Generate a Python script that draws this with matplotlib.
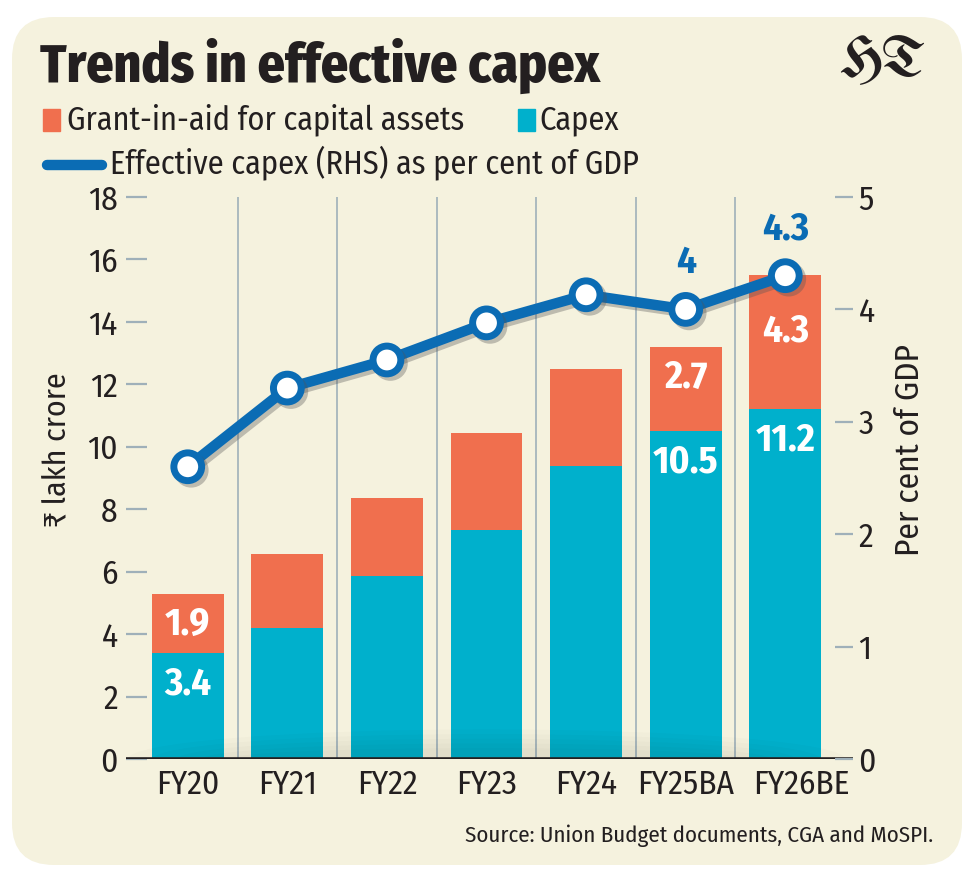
"""Trends in effective capex - stacked bars with GDP-share line on the right axis."""

import matplotlib
matplotlib.use("Agg")
import matplotlib.pyplot as plt
import matplotlib.patheffects as pe
import matplotlib.transforms as mtrans
from matplotlib import font_manager as fm
from matplotlib.patches import FancyBboxPatch, Rectangle, Ellipse
from matplotlib.lines import Line2D

years = ["FY20", "FY21", "FY22", "FY23", "FY24", "FY25BA", "FY26BE"]
capex = [3.4, 4.2, 5.85, 7.35, 9.4, 10.5, 11.2]
grant = [1.9, 2.35, 2.5, 3.1, 3.1, 2.7, 4.3]
eff_pct_gdp = [2.6, 3.3, 3.55, 3.88, 4.13, 4.0, 4.3]

capex_labels = {0: "3.4", 5: "10.5", 6: "11.2"}
grant_labels = {0: "1.9", 5: "2.7", 6: "4.3"}
line_labels = {5: "4", 6: "4.3"}

ORANGE = "#f06f4e"
TEAL = "#00b0cc"
BLUE = "#0b6cb4"
CREAM = "#f5f2de"
INK = "#231f20"
GRID = "#9fb0b9"

# pick a condensed face if one is installed, keep DejaVu for the rupee sign
installed = {f.name for f in fm.fontManager.ttflist}
cands = ["Fira Sans Condensed", "Roboto Condensed", "Barlow Semi Condensed",
         "PT Sans Narrow", "Archivo Narrow", "Liberation Sans Narrow"]
cond = next((c for c in cands if c in installed), "DejaVu Sans")
FONT = [cond, "DejaVu Sans"]
plt.rcParams["font.family"] = FONT
gothic = ["UnifrakturMaguntia", "UnifrakturCook", "Pirata One",
          "Grenze Gotisch", "Fruktur", "DejaVu Serif"]
LOGO = next((c for c in gothic if c in installed), "DejaVu Serif")

W, H = 970, 882
fig = plt.figure(figsize=(W / 100, H / 100), dpi=100)
fig.patch.set_facecolor("white")


def fx(x):
    return x / W


def fy(y):
    return 1 - y / H


# cream card with rounded corners (in inches so corners stay round)
card = FancyBboxPatch((0.12, 0.17), 9.50, 8.48,
                      boxstyle="round,pad=0,rounding_size=0.42",
                      transform=fig.dpi_scale_trans, facecolor=CREAM,
                      edgecolor="none", zorder=-10)
fig.patches.append(card)

ax = fig.add_axes([fx(126), fy(759), fx(853) - fx(126), (759 - 197) / H])
ax.set_facecolor("none")
x = range(len(years))

# category separators
for s in range(len(years) - 1):
    ax.axvline(s + 0.5, color=GRID, lw=1.2, zorder=1)

ax.bar(x, capex, width=0.72, color=TEAL, zorder=2)
ax.bar(x, grant, width=0.72, bottom=capex, color=ORANGE, zorder=2)

# soft floor shadow along the baseline
for k in range(5):
    ax.add_patch(Ellipse((3.0, 0), 7.2 - 0.5 * k, 1.9 - 0.3 * k,
                         facecolor="black", edgecolor="none", alpha=0.016,
                         zorder=2.5))
ax.axhline(0, color=INK, lw=2.6, zorder=3)

ax.set_xlim(-0.62, 6.68)
ax.set_ylim(0, 18)
ax.set_yticks(range(0, 19, 2))
ax.set_xticks(list(x))
ax.set_xticklabels(years)
for sp in ax.spines.values():
    sp.set_visible(False)
ax.tick_params(axis="y", direction="in", length=15, width=1.6, color=GRID,
               labelsize=24, labelcolor=INK, pad=6)
ax.tick_params(axis="x", length=0, labelsize=24, labelcolor=INK, pad=7)
# last category label sits a little right of its bar in the original
last = ax.get_xticklabels()[-1]
last.set_transform(last.get_transform() +
                   mtrans.ScaledTranslation(0.16, 0, fig.dpi_scale_trans))
ax.set_ylabel("₹ lakh crore", fontsize=23, color=INK)
ax.yaxis.set_label_coords(-0.074, 0.55)

for i, lab in capex_labels.items():
    ax.annotate(lab, (i, capex[i]), xytext=(0, -9), textcoords="offset points",
                ha="center", va="top", color="white", fontsize=28,
                fontweight="bold", zorder=4)
for i, lab in grant_labels.items():
    off = -27 if i == 6 else -9
    ax.annotate(lab, (i, capex[i] + grant[i]), xytext=(0, off),
                textcoords="offset points", ha="center", va="top",
                color="white", fontsize=28, fontweight="bold", zorder=4)

ax2 = ax.twinx()
ax2.set_ylim(0, 5)
ax2.set_yticks(range(0, 6))
for sp in ax2.spines.values():
    sp.set_visible(False)
ax2.tick_params(axis="y", direction="in", length=13, width=1.6, color=GRID,
                labelsize=24, labelcolor=INK, pad=4)
ax2.set_ylabel("Per cent of GDP", fontsize=24, color=INK)
ax2.yaxis.set_label_coords(1.056, 0.55)

ax2.plot(list(x), eff_pct_gdp, color=BLUE, lw=7.5, marker="o", ms=20,
         mfc="white", mec=BLUE, mew=5, zorder=5,
         path_effects=[pe.SimpleLineShadow(offset=(2.5, -2.5), alpha=0.35,
                                           shadow_color="#555555"),
                       pe.Normal()])
for i, lab in line_labels.items():
    ax2.annotate(lab, (i, eff_pct_gdp[i]), xytext=(0, 20),
                 textcoords="offset points", ha="center", va="bottom",
                 color=BLUE, fontsize=28, fontweight="bold", zorder=6)

# title, logo, legend, source
fig.text(fx(40), fy(82), "Trends in effective capex", fontsize=38.5,
         fontweight="heavy", color=INK, va="baseline")
fig.text(fx(926), fy(62), "HT", fontsize=42, family=[LOGO], color=INK,
         ha="right", va="center")

fig.patches.append(Rectangle((fx(43), fy(131)), fx(17), 22 / H,
                             transform=fig.transFigure, color=ORANGE))
fig.text(fx(67), fy(120), "Grant-in-aid for capital assets", fontsize=23.3,
         color=INK, va="center")
fig.patches.append(Rectangle((fx(518), fy(131)), fx(17), 22 / H,
                             transform=fig.transFigure, color=TEAL))
fig.text(fx(539), fy(120), "Capex", fontsize=23.3, color=INK, va="center")
fig.lines.append(Line2D([fx(47), fx(102)], [fy(165), fy(165)],
                        transform=fig.transFigure, color=BLUE, lw=7.5,
                        solid_capstyle="round"))
fig.text(fx(110), fy(163), "Effective capex (RHS) as per cent of GDP",
         fontsize=23.3, color=INK, va="center")

fig.text(fx(933), fy(836), "Source: Union Budget documents, CGA and MoSPI.",
         fontsize=16.5, color=INK, ha="right", va="center")

fig.savefig("out.png", dpi=100, facecolor="white")
